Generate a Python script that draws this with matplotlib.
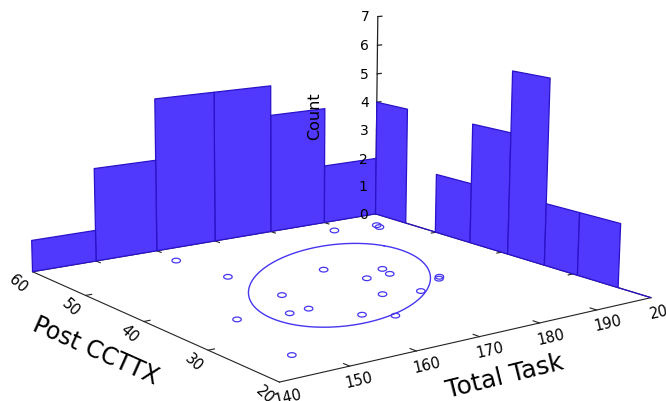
import numpy as np
import matplotlib.pyplot as plt
from mpl_toolkits.mplot3d import proj3d
from mpl_toolkits.mplot3d.art3d import Poly3DCollection

# scatter points on the floor (Total Task, Post CCTTX)
total_task = [147.0, 150.0, 157.0, 159.3, 160.2, 160.4, 161.1, 164.1, 167.3, 172.2,
              173.3, 175.4, 177.3, 179.4, 180.2, 183.3, 184.0, 188.2, 195.1, 195.5]
post_ccttx = [25.0, 35.9, 34.8, 55.7, 35.0, 47.9, 39.9, 30.8, 28.9, 34.9,
              44.8, 40.0, 33.7, 40.0, 41.8, 36.0, 36.5, 56.6, 55.1, 55.9]

# histograms on the back walls
task_edges = [140, 150, 160, 170, 180, 190, 200]
task_counts = [1, 3, 5, 5, 4, 2]
ccttx_edges = [20, 24.1, 29.4, 33.9, 39.1, 44.7, 50.1, 54.9, 60]
ccttx_counts = [0, 2, 2, 6, 4, 2, 0, 4]

# ellipse on the floor: centre, semi axes, angle (deg)
ell_center = (171.4, 40.4)
ell_axes = (19.0, 9.2)
ell_angle = 25.8

x_ticks = [140, 150, 160, 170, 180, 190, 200]
y_ticks = [20, 30, 40, 50, 60]
z_ticks = [0, 1, 2, 3, 4, 5, 6, 7]

xmin, xmax = 140, 200
ymin, ymax = 20, 60
zmin, zmax = 0, 7

bar_face = '#5038fc'
bar_edge = '#2a12c8'
mark_col = '#4636f0'

fig = plt.figure(figsize=(6.66, 4.01), dpi=100)
ax = fig.add_axes([-0.009, -0.281, 1, 1.66], projection='3d')
ax.set_proj_type('persp', focal_length=0.52)
ax.view_init(elev=12, azim=-127.0, roll=-0.4)
ax.set_box_aspect((1.257, 1.234, 0.65), zoom=0.982)
ax.set_xlim(xmin, xmax)
ax.set_ylim(ymin, ymax)
ax.set_zlim(zmin, zmax)
ax.set_axis_off()
ax.computed_zorder = False
M = ax.get_proj()


def line3(xs, ys, zs, **kw):
    ln, = ax.plot(xs, ys, zs, **kw)
    ln.set_clip_on(False)
    return ln


def label(x, y, z, s, rot=0, **kw):
    # place a screen text at a 3d point, with a free rotation
    px, py, _ = proj3d.proj_transform(x, y, z, M)
    ax.text2D(px, py, s, rotation=rot, transform=ax.transData, zorder=6, **kw)


# floor edges
k = dict(color='#222222', lw=0.8, zorder=1)
line3([xmin, xmax], [ymin, ymin], [0, 0], **k)
line3([xmin, xmin], [ymin, ymax], [0, 0], **k)
line3([xmin, xmax], [ymax, ymax], [0, 0], **k)
line3([xmax, xmax], [ymin, ymax], [0, 0], **k)

# ticks on the floor edges
for xt in x_ticks[1:-1]:
    line3([xt, xt], [ymin, ymin + 0.8], [0, 0], **k)
    line3([xt, xt], [ymax, ymax - 0.8], [0, 0], **k)
for yt in y_ticks[1:-1]:
    line3([xmin, xmin + 0.9], [yt, yt], [0, 0], **k)
    line3([xmax, xmax - 0.9], [yt, yt], [0, 0], **k)

# tick labels
for xt in x_ticks:
    label(xt - 1.5, ymin - 0.6, 0, str(xt), rot=13, ha='left', va='top', fontsize=10.5)
for yt in y_ticks:
    label(xmin - 0.4, yt, 0, str(yt), rot=-42, ha='right', va='top', fontsize=10.5)

label(162.0, 10.8, 0, 'Total Task', rot=14, ha='center', va='center', fontsize=18)
label(129.1, 35.2, 0, 'Post CCTTX', rot=-24, ha='center', va='center', fontsize=17)

# ellipse
t = np.linspace(0, 2 * np.pi, 240)
th = np.deg2rad(ell_angle)
ea, eb = ell_axes
ex = ell_center[0] + ea * np.cos(t) * np.cos(th) - eb * np.sin(t) * np.sin(th)
ey = ell_center[1] + ea * np.cos(t) * np.sin(th) + eb * np.sin(t) * np.cos(th)
line3(ex, ey, np.zeros_like(ex), color=mark_col, lw=1.0, zorder=2)

# scatter
tt = np.linspace(0, 2 * np.pi, 30)
oval = np.column_stack([np.cos(tt), 0.55 * np.sin(tt)])
ax.scatter(total_task, post_ccttx, zs=0, marker=oval, s=38,
           facecolors='none', edgecolors=mark_col, linewidths=0.9,
           depthshade=False, zorder=3)

# z axis at the back corner
line3([xmax, xmax], [ymax, ymax], [zmin, zmax], color='#222222', lw=0.9, zorder=4)
for zt in z_ticks:
    line3([xmax, xmax + 0.8], [ymax, ymax], [zt, zt], color='#222222', lw=0.9, zorder=4)
    label(xmax - 1.6, ymax, zt, str(zt), ha='right', va='center', fontsize=10)
label(188, ymax, 3.8, 'Count', rot=90, ha='center', va='center', fontsize=11.5)

# wall histograms
left = []
for x0, x1, c in zip(task_edges[:-1], task_edges[1:], task_counts):
    left.append([(x0, ymax, 0), (x1, ymax, 0), (x1, ymax, c), (x0, ymax, c)])
right = []
for y0, y1, c in zip(ccttx_edges[:-1], ccttx_edges[1:], ccttx_counts):
    right.append([(xmax, y0, 0), (xmax, y1, 0), (xmax, y1, c), (xmax, y0, c)])
for v in (left, right):
    pc = Poly3DCollection(v, facecolor=bar_face, edgecolor=bar_edge,
                          linewidth=0.9, zorder=5)
    ax.add_collection3d(pc)

fig.savefig('out.png', dpi=100, facecolor='white')
